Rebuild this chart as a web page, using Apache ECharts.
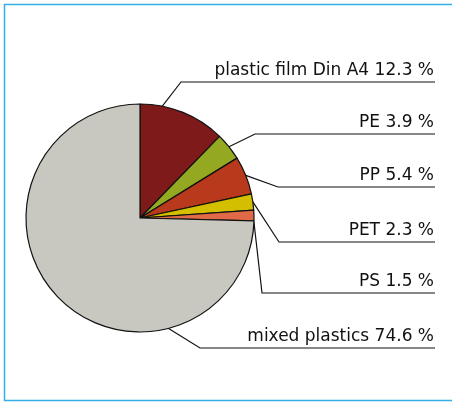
<!DOCTYPE html>
<html>
<head>
<meta charset="utf-8">
<script src="https://cdn.jsdelivr.net/npm/echarts@6/dist/echarts.min.js"></script>
<style>
  html, body { margin: 0; padding: 0; background: #fff; }
  #chart { width: 452px; height: 404px; }
</style>
</head>
<body>
<div id="chart"></div>
<script>
// Plastic fractions, share in percent
const categories = ['plastic film Din A4', 'PE', 'PP', 'PET', 'PS', 'mixed plastics'];
const shares = [12.3, 3.9, 5.4, 2.3, 1.5, 74.6];
const sliceColors = ['#7f1a1b', '#95a822', '#b9391c', '#d4be00', '#e06a48', '#c8c8c0'];

// Pie geometry (pixels)
const CX = 140, CY = 218, R = 114;
// Label guide layout: baseline y of the underline, x of the elbow,
// and an optional anchor angle (degrees clockwise from 12 o'clock)
const guideY = [82, 134, 187, 242, 293, 348];
const elbowX = [181, 255, 278, 279, 262, 200];
const anchorAngle = [10.5, null, null, null, 92, 167];
const anchorInset = [3, 0, 0, 0, 0, 3];
const LABEL_RIGHT = 435;

const chart = echarts.init(document.getElementById('chart'), null, { renderer: 'canvas' });

// Mid angles of slices from the data, for default anchor points
const total = shares.reduce((a, b) => a + b, 0);
const midAngles = [];
let acc = 0;
shares.forEach(v => { midAngles.push((acc + v / 2) / total * 360); acc += v; });

function anchorPoint(i) {
  const ang = (anchorAngle[i] != null ? anchorAngle[i] : midAngles[i]) * Math.PI / 180;
  const r = R - anchorInset[i];
  return [CX + r * Math.sin(ang), CY - r * Math.cos(ang)];
}

chart.setOption({
  animation: false,
  backgroundColor: '#ffffff',
  graphic: [{
    type: 'rect',
    shape: { x: 4.5, y: 4.5, width: 520, height: 396 },
    style: { fill: null, stroke: '#33aee6', lineWidth: 1.5 },
    silent: true
  }],
  series: [{
    type: 'pie',
    center: [CX, CY],
    radius: [0, R],
    startAngle: 90,
    clockwise: true,
    avoidLabelOverlap: false,
    data: categories.map((name, i) => ({
      name: name,
      value: shares[i],
      itemStyle: { color: sliceColors[i] }
    })),
    itemStyle: { borderColor: '#111', borderWidth: 1.2 },
    label: {
      show: true,
      formatter: p => p.name + ' ' + p.value.toFixed(1) + ' %',
      color: '#111',
      fontFamily: 'DejaVu Sans',
      fontSize: 17,
      lineHeight: 20
    },
    labelLine: {
      show: true,
      lineStyle: { color: '#111', width: 1.2 }
    },
    labelLayout: function (params) {
      const i = params.dataIndex;
      const y = guideY[i];
      return {
        x: LABEL_RIGHT - 1,
        y: y - 1,
        align: 'right',
        verticalAlign: 'bottom',
        labelLinePoints: [anchorPoint(i), [elbowX[i], y], [LABEL_RIGHT, y]]
      };
    },
    emphasis: { disabled: true }
  }]
});
</script>
</body>
</html>
